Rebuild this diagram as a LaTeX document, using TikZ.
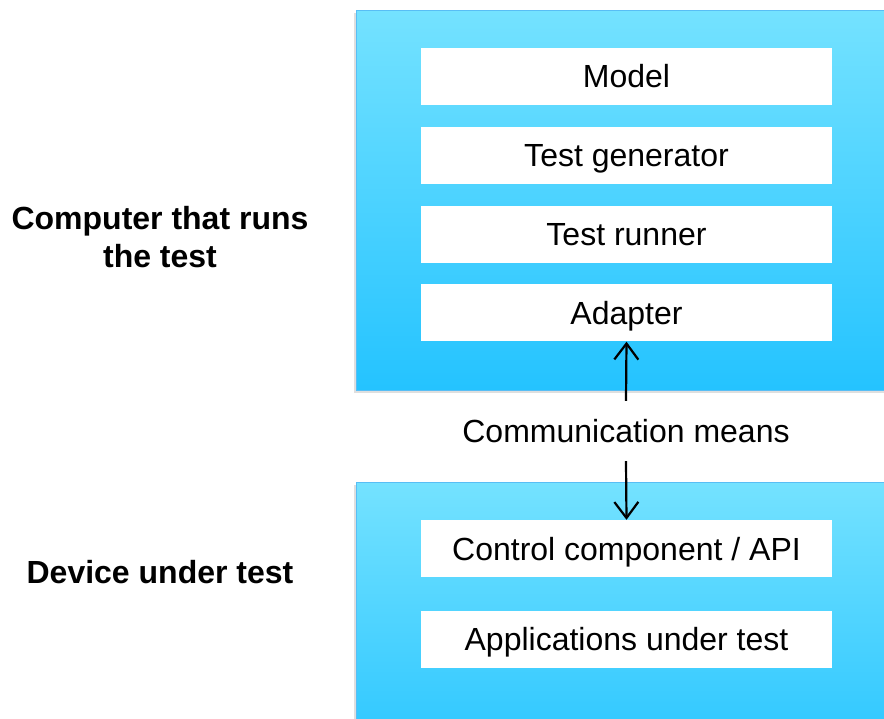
\documentclass[tikz,border=0pt]{standalone}
\usepackage{fontspec}
\setmainfont{Liberation Sans}
\usetikzlibrary{arrows.meta,shadows}
\definecolor{paneltop}{RGB}{116,226,255}
\definecolor{panelbot}{RGB}{36,195,255}
\definecolor{paneledge}{RGB}{88,190,245}
\tikzset{
  panel/.style={rectangle, draw=paneledge, line width=1.2pt, top color=paneltop, bottom color=panelbot,
    anchor=north west, inner sep=0pt,
    drop shadow={shadow xshift=-2.5pt, shadow yshift=-2.5pt, opacity=0.18, fill=black!70}},
  layer/.style={rectangle, fill=white, minimum width=411pt, minimum height=57pt, inner sep=0pt,
    text height=23pt, text depth=0pt, font=\fontsize{32}{38}\selectfont},
  sidelabel/.style={align=center, font=\fontsize{32}{38}\selectfont\bfseries},
  link/.style={line width=2.2pt, -{Straight Barb[length=16pt,width=24pt,line width=2.2pt]}}
}
\begin{document}
\begin{tikzpicture}[x=1pt, y=-1pt]
\useasboundingbox (0,0) rectangle (884,719);

% host computer panel
\node (host) [panel, minimum width=540pt, minimum height=380pt] at (356,10) {};
\node (model)   [layer] at (626.5,76.5)  {Model};
\node (gen)     [layer] at (626.5,155.5) {Test generator};
\node (runner)  [layer] at (626.5,234.5) {Test runner};
\node (adapter) [layer] at (626.5,313)   {Adapter};

% device panel
\node (device) [panel, minimum width=540pt, minimum height=300pt] at (356,482) {};
\node (ctrl) [layer] at (626.5,548.5) {Control component / API};
\node (apps) [layer] at (626.5,639)   {Applications under test};

% link between the two
\node (comm) [minimum height=60pt, inner sep=0pt, text height=23pt, text depth=0pt,
  font=\fontsize{32}{38}\selectfont] at (626,431) {Communication means};
\draw[link] (comm.north) -- (adapter.south);
\draw[link] (comm.south) -- (ctrl.north);

% side captions
\node (hostlabel) [sidelabel] at (160,237) {Computer that runs\\the test};
\node (devlabel)  [sidelabel] at (160,572) {Device under test};
\end{tikzpicture}
\end{document}
